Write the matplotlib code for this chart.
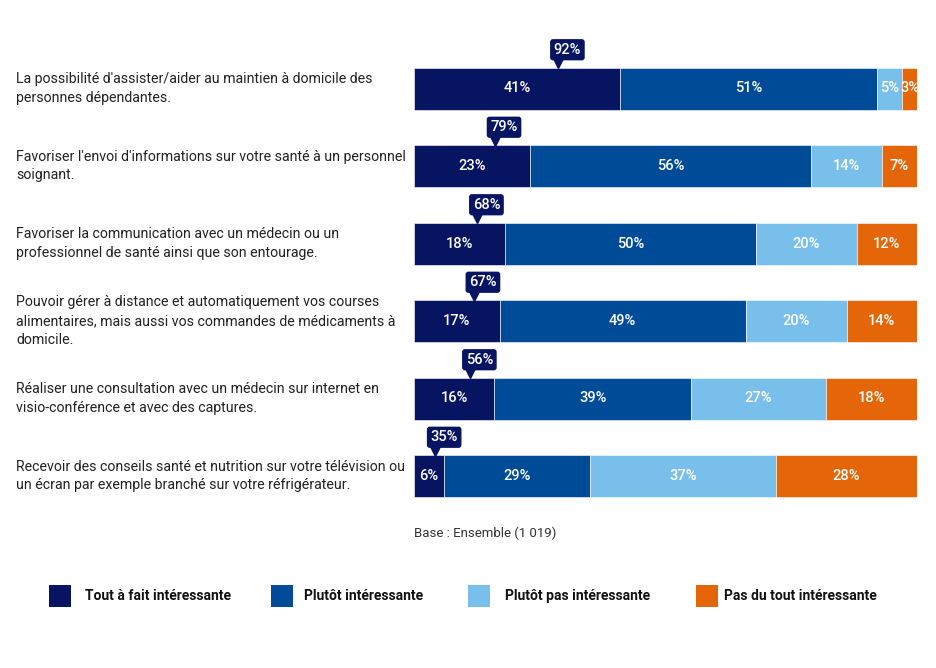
import numpy as np
import matplotlib
matplotlib.use('Agg')
import matplotlib.pyplot as plt
from matplotlib.patches import Rectangle
from matplotlib.transforms import blended_transform_factory, offset_copy

# Data
questions = [
    "La possibilité d'assister/aider au maintien à domicile des\npersonnes dépendantes.",
    "Favoriser l'envoi d'informations sur votre santé à un personnel\nsoignant.",
    "Favoriser la communication avec un médecin ou un\nprofessionnel de santé ainsi que son entourage.",
    "Pouvoir gérer à distance et automatiquement vos courses\nalimentaires, mais aussi vos commandes de médicaments à\ndomicile.",
    "Réaliser une consultation avec un médecin sur internet en\nvisio-conférence et avec des captures.",
    "Recevoir des conseils santé et nutrition sur votre télévision ou\nun écran par exemple branché sur votre réfrigérateur.",
]
tout_a_fait = [41, 23, 18, 17, 16, 6]
plutot = [51, 56, 50, 49, 39, 29]
plutot_pas = [5, 14, 20, 20, 27, 37]
pas_du_tout = [3, 7, 12, 14, 18, 28]
totals = [92, 79, 68, 67, 56, 35]
categories = ["Tout à fait intéressante", "Plutôt intéressante",
              "Plutôt pas intéressante", "Pas du tout intéressante"]
base_note = "Base : Ensemble (1 019)"

colors = ['#061462', '#004b98', '#78bfeb', '#e56608']
navy = colors[0]

W, H = 936, 668
fig = plt.figure(figsize=(W / 100, H / 100), dpi=100)
plt.rcParams['font.family'] = ['Roboto', 'DejaVu Sans']

# axes: bars from x=414 to 917 px, rows centred at 88.5 + 77.5*i px
row_gap = 77.5
top_px = 88.5 - 0.75 * row_gap
bot_px = 88.5 + 5.75 * row_gap
ax = fig.add_axes([414 / W, 1 - bot_px / H, 503 / W, (bot_px - top_px) / H])
ax.set_xlim(0, 100)
ax.set_ylim(5.75, -0.75)
ax.axis('off')

series = [tout_a_fait, plutot, plutot_pas, pas_du_tout]
y = np.arange(len(questions))
left = np.zeros(len(questions))
bar_h = 42 / row_gap
for vals, col in zip(series, colors):
    vals = np.array(vals, dtype=float)
    ax.barh(y, vals, left=left, height=bar_h, color=col,
            edgecolor='white', linewidth=0.4)
    for yi, l, v in zip(y, left, vals):
        ax.text(l + v / 2, yi, f"{int(v)}%", ha='center', va='center',
                color='white', fontsize=10.5, fontweight='medium')
    left += vals

# total callouts
for yi, first, tot in zip(y, tout_a_fait, totals):
    px = first * 0.7
    ax.plot(px, yi - bar_h / 2, marker='v', color=navy, markersize=7,
            transform=offset_copy(ax.transData, fig=fig, y=3, units='points'),
            clip_on=False)
    ax.text(px + 1.8, yi - 0.5, f"{tot}%", ha='center', va='center',
            color='white', fontsize=10.5, fontweight='medium',
            bbox=dict(boxstyle='round,pad=0.2,rounding_size=0.15',
                      fc=navy, ec=navy))

# question labels
tr = blended_transform_factory(fig.transFigure, ax.transData)
for yi, q in zip(y, questions):
    fig.text(16 / W, yi, q, transform=tr, ha='left', va='center',
             fontsize=10.2, color='#222222', linespacing=1.45)

fig.text(414 / W, 1 - 533 / H, base_note, ha='left', va='center',
         fontsize=9.5, color='#333333')

# legend
sq_x = [49, 271, 468, 696]
txt_x = [85, 304, 505, 724]
for xs, xt, col, lab in zip(sq_x, txt_x, colors, categories):
    fig.patches.append(Rectangle((xs / W, 1 - 607 / H), 22 / W, 22 / H,
                                 transform=fig.transFigure, fc=col, ec='none'))
    fig.text(xt / W, 1 - 596 / H, lab, ha='left', va='center',
             fontsize=10, fontweight='bold', color='#111111')

fig.savefig('out.png', dpi=100, facecolor='white')
